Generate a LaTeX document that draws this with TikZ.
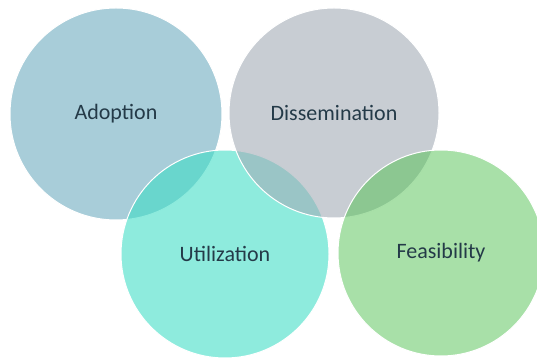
\documentclass[tikz,border=0pt]{standalone}
\usepackage{fontspec}
\setmainfont{Carlito}
\usepackage{tikz}

\definecolor{adoptionblue}{RGB}{168,205,217}
\definecolor{dissgrey}{RGB}{163,172,182}
\definecolor{utilteal}{RGB}{60,221,197}
\definecolor{feasgreen}{RGB}{81,193,81}
\definecolor{labeltext}{RGB}{36,58,72}

\begin{document}
\begin{tikzpicture}[x=1pt,y=1pt,
  set node/.style={circle,draw=white,line width=1pt,inner sep=0pt,
    text opacity=1,text=labeltext,font=\fontsize{22}{26}\selectfont}]

  \useasboundingbox (0,0) rectangle (537,358);
  \clip (0,0) rectangle (537,358);

  \node[set node,minimum size=212pt,fill=adoptionblue] (adoption) at (116,244) {Adoption};
  \node[set node,minimum size=208pt,fill=utilteal,fill opacity=0.58] (utilization) at (225,104) {Utilization};
  \node[set node,minimum size=210pt,fill=dissgrey,fill opacity=0.6] (dissemination) at (334,245) {Dissemination};
  \node[set node,minimum size=206pt,fill=feasgreen,fill opacity=0.5] (feasibility) at (441,105) {Feasibility};
\end{tikzpicture}
\end{document}
